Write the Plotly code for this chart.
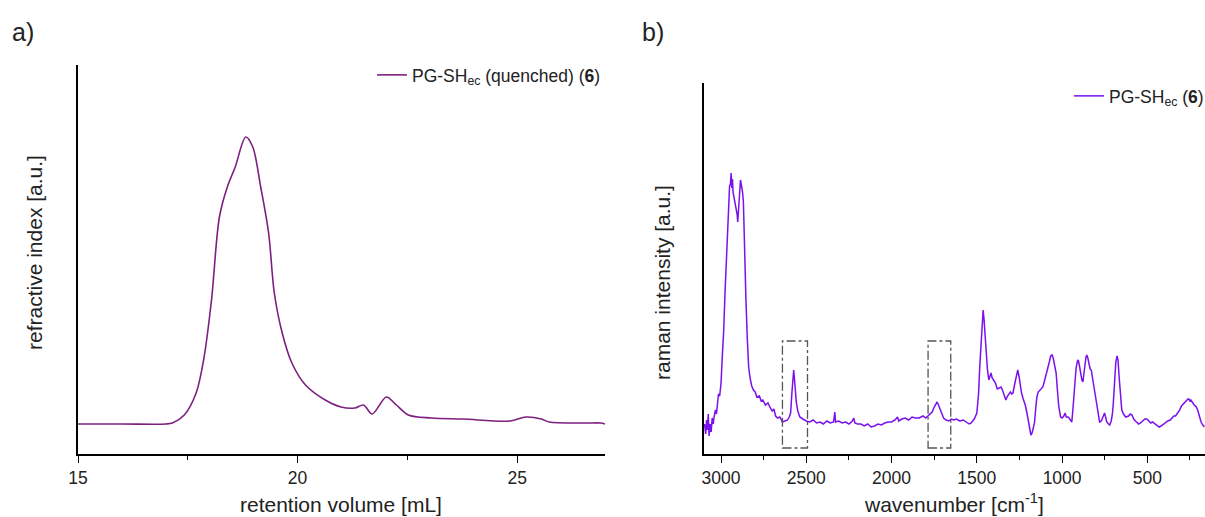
import plotly.graph_objects as go

# ---- a) GPC trace: retention volume [mL] vs refractive index signal ----
gpc_volume = [15.0, 16.0, 17.0, 17.15, 17.42, 17.69, 17.86, 18.04, 18.22, 18.40,
              18.58, 18.82, 18.98, 19.16, 19.34, 19.47, 19.65, 19.87, 20.18, 20.63,
              20.99, 21.30, 21.50, 21.70, 22.02, 22.25, 22.52, 23.05, 23.76, 24.84,
              25.20, 25.55, 25.73, 26.54, 26.90, 27.0]
gpc_signal = [30, 30, 30, 31, 39, 61, 94, 154, 237, 267,
              287, 317, 307, 267, 221, 161, 121, 91, 69, 54,
              47, 46, 49, 40, 57, 49, 39, 36, 35, 33,
              37, 35, 32, 31, 31, 30]

# ---- b) Raman spectrum: wavenumber [cm-1] vs intensity ----
raman_wavenumber = [
    3097, 3090, 3085, 3080, 3075, 3070, 3064, 3058, 3052, 3046, 3040, 3033, 3027, 3022,
    3015, 3008, 3000, 2992, 2985, 2977, 2970, 2963, 2956, 2950, 2945, 2941, 2937, 2933,
    2930, 2921, 2912, 2906, 2902, 2898, 2893, 2886, 2880, 2874, 2869, 2862, 2854, 2846,
    2838, 2830, 2820, 2810, 2800, 2790, 2775, 2765, 2755, 2740, 2725, 2711, 2700, 2690,
    2680, 2668, 2655, 2640, 2624, 2610, 2600, 2592, 2585, 2579, 2574, 2568, 2563, 2559,
    2550, 2538, 2520, 2500, 2480, 2460, 2440, 2420, 2400, 2380, 2360, 2340, 2333, 2328,
    2310, 2290, 2270, 2250, 2230, 2222, 2215, 2200, 2180, 2160, 2140, 2120, 2100, 2080,
    2060, 2040, 2020, 2000, 1980, 1965, 1958, 1940, 1920, 1900, 1880, 1860, 1838, 1815,
    1800, 1785, 1770, 1762, 1750, 1740, 1733, 1725, 1715, 1707, 1695, 1680, 1664, 1650,
    1635, 1620, 1600, 1580, 1560, 1545, 1533, 1515, 1500, 1490, 1483, 1475, 1468, 1463,
    1458, 1452, 1445, 1438, 1430, 1423, 1417, 1410, 1400, 1391, 1380, 1370, 1358, 1350,
    1340, 1330, 1320, 1310, 1303, 1295, 1288, 1278, 1268, 1260, 1252, 1245, 1238, 1228,
    1216, 1205, 1195, 1188, 1183, 1176, 1170, 1162, 1155, 1148, 1140, 1130, 1120, 1113,
    1105, 1095, 1085, 1075, 1067, 1059, 1052, 1045, 1035, 1028, 1020, 1009, 1000, 990,
    982, 976, 965, 955, 943, 935, 926, 918, 910, 905, 898, 890, 884, 878,
    872, 865, 860, 855, 849, 842, 835, 829, 820, 810, 802, 795, 788, 780,
    770, 760, 751, 745, 738, 728, 721, 712, 705, 700, 695, 690, 685, 678,
    672, 666, 661, 656, 650, 640, 633, 627, 610, 600, 590, 580, 570, 560,
    551, 540, 525, 515, 503, 490, 480, 470, 455, 445, 431, 420, 405, 395,
    380, 366, 355, 345, 335, 322, 310, 300, 290, 280, 270, 262, 257, 250,
    245, 235, 225, 213, 205, 195, 185, 175, 165,
]
raman_intensity = [
    30, 20, 34, 24, 40, 18, 30, 22, 36, 30, 38, 44, 40, 51,
    60, 58, 71, 100, 121, 160, 187, 220, 247, 268, 270, 281, 266, 275,
    262, 255, 247, 240, 232, 244, 262, 274, 268, 262, 252, 200, 154, 115,
    87, 76, 68, 64, 62, 57, 58, 53, 54, 49, 51, 46, 43, 45,
    38, 36, 37, 32, 33, 34, 37, 41, 60, 80, 84, 72, 60, 52,
    43, 37, 35, 33, 32, 34, 31, 32, 30, 33, 31, 32, 42, 32,
    33, 31, 32, 30, 33, 36, 31, 30, 30, 28, 30, 27, 28, 30,
    29, 31, 32, 32, 34, 37, 33, 35, 36, 34, 37, 36, 36, 38,
    36, 38, 40, 42, 47, 51, 52, 49, 44, 40, 36, 34, 33, 35,
    34, 35, 33, 34, 32, 30, 31, 35, 41, 60, 87, 115, 138, 144,
    135, 118, 104, 85, 74, 79, 81, 76, 73, 71, 65, 66, 67, 64,
    58, 54, 58, 60, 62, 60, 61, 70, 80, 84, 77, 68, 61, 55,
    49, 40, 28, 21, 19, 21, 25, 31, 45, 57, 62, 64, 66, 67,
    72, 78, 84, 92, 98, 99, 96, 90, 81, 65, 48, 37, 36, 38,
    41, 37, 37, 35, 32, 48, 71, 86, 93, 94, 88, 79, 74, 72,
    80, 92, 97, 99, 96, 90, 85, 84, 74, 62, 54, 45, 36, 32,
    33, 37, 41, 37, 32, 30, 29, 33, 40, 50, 62, 80, 92, 98,
    94, 78, 64, 54, 44, 40, 38, 37, 38, 40, 39, 35, 33, 31,
    30, 31, 33, 35, 35, 33, 31, 32, 30, 28, 27, 28, 30, 31,
    33, 34, 36, 38, 38, 41, 44, 48, 50, 52, 54, 55, 55, 53,
    54, 51, 49, 47, 44, 38, 32, 29, 27,
]

# Highlighted bands (S-H stretch and C=O region): [start, end] in cm-1, and intensity extent
band_ranges = [[2640, 2493], [1786, 1653]]
band_intensity = [6, 113]

W, H = 1205, 517
FONT = "Liberation Sans, Arial, sans-serif"
TEXT = "#222222"
GPC_COLOR = "#7d1f80"
RAMAN_COLOR = "#7a10ee"

fig = go.Figure()

fig.add_trace(go.Scatter(
    x=gpc_volume, y=gpc_signal, mode="lines",
    line=dict(color=GPC_COLOR, width=1.6, shape="spline", smoothing=0.9),
    name="PG-SH<sub>ec</sub> (quenched) (<b>6</b>)",
    xaxis="x", yaxis="y", legend="legend",
))

fig.add_trace(go.Scatter(
    x=raman_wavenumber, y=raman_intensity, mode="lines",
    line=dict(color=RAMAN_COLOR, width=1.5),
    name="PG-SH<sub>ec</sub> (<b>6</b>)",
    xaxis="x2", yaxis="y2", legend="legend2",
))

for x0, x1 in band_ranges:
    fig.add_shape(type="rect", xref="x2", yref="y2",
                  x0=x0, x1=x1, y0=band_intensity[0], y1=band_intensity[1],
                  line=dict(color="#555555", width=1.3, dash="dashdot"))


def px_x(p):
    return p / W


def px_y(p):
    return 1 - p / H


axis_common = dict(
    showline=True, linecolor="black", linewidth=1.6, mirror=False,
    showgrid=False, zeroline=False, automargin=False,
    tickfont=dict(family=FONT, size=17.5, color=TEXT),
)

fig.update_layout(
    width=W, height=H,
    margin=dict(l=0, r=0, t=0, b=0, autoexpand=False),
    paper_bgcolor="white", plot_bgcolor="white",
    font=dict(family=FONT, color=TEXT),
    xaxis=dict(
        domain=[px_x(78), px_x(605)], range=[15, 27], anchor="y",
        tickmode="linear", tick0=0, dtick=5,
        ticks="outside", ticklen=7, tickwidth=1.4, tickcolor="black",
        minor=dict(dtick=2.5, ticks="outside", ticklen=4, tickwidth=1.4, tickcolor="black"),
        **axis_common,
    ),
    yaxis=dict(
        domain=[px_y(454), px_y(65)], range=[0, 389], anchor="x",
        showticklabels=False, ticks="",
        **axis_common,
    ),
    xaxis2=dict(
        domain=[px_x(704), 1.0], range=[3100, 162], anchor="y2",
        tickmode="linear", tick0=0, dtick=500,
        ticks="outside", ticklen=7, tickwidth=1.4, tickcolor="black",
        minor=dict(dtick=250, ticks="outside", ticklen=4, tickwidth=1.4, tickcolor="black"),
        **axis_common,
    ),
    yaxis2=dict(
        domain=[px_y(454), px_y(83)], range=[0, 371], anchor="x2",
        showticklabels=False, ticks="",
        **axis_common,
    ),
    legend=dict(
        x=px_x(372), y=px_y(75), xanchor="left", yanchor="middle",
        bgcolor="rgba(0,0,0,0)", borderwidth=0,
        font=dict(family=FONT, size=17.5, color=TEXT),
    ),
    legend2=dict(
        x=px_x(1069), y=px_y(96), xanchor="left", yanchor="middle",
        bgcolor="rgba(0,0,0,0)", borderwidth=0,
        font=dict(family=FONT, size=17.5, color=TEXT),
    ),
    showlegend=True,
)

annotations = [
    dict(text="a)", x=px_x(10), y=px_y(32), xanchor="left", yanchor="middle", size=25),
    dict(text="b)", x=px_x(640), y=px_y(32), xanchor="left", yanchor="middle", size=25),
    dict(text="retention volume [mL]", x=px_x(341), y=px_y(504),
         xanchor="center", yanchor="middle", size=21),
    dict(text="wavenumber [cm<sup>-1</sup>]", x=px_x(954), y=px_y(503),
         xanchor="center", yanchor="middle", size=21),
    dict(text="refractive index [a.u.]", x=px_x(35), y=px_y(253), textangle=-90,
         xanchor="center", yanchor="middle", size=21),
    dict(text="raman intensity [a.u.]", x=px_x(662), y=px_y(283), textangle=-90,
         xanchor="center", yanchor="middle", size=21),
]
for a in annotations:
    size = a.pop("size")
    a.update(xref="paper", yref="paper", showarrow=False,
             font=dict(family=FONT, color=TEXT, size=size))
fig.update_layout(annotations=annotations)

fig.write_html("out.html")
